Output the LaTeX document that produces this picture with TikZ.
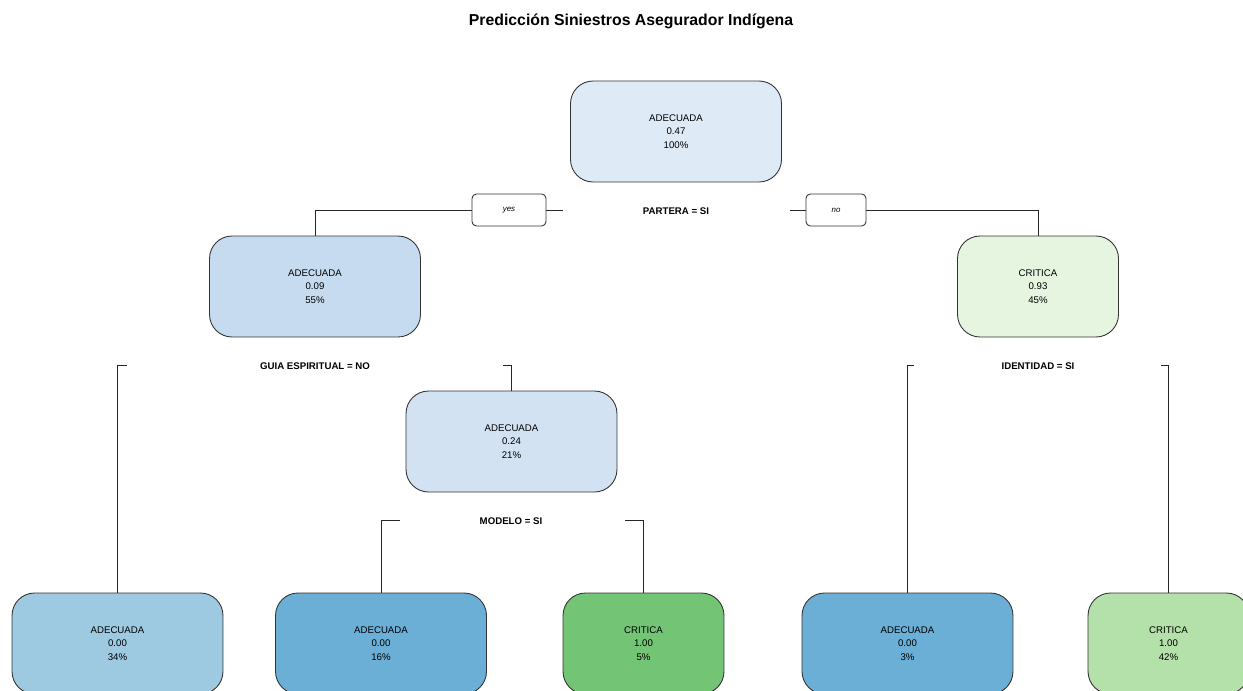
\documentclass[tikz,border=0pt]{standalone}
\usepackage{fontspec}
\setmainfont{Liberation Sans}
\usetikzlibrary{positioning}

\definecolor{cRoot}{RGB}{222,234,246}
\definecolor{cL}{RGB}{198,219,239}
\definecolor{cM}{RGB}{210,226,242}
\definecolor{cR}{RGB}{229,245,224}
\definecolor{cA}{RGB}{158,202,225}
\definecolor{cB}{RGB}{107,174,214}
\definecolor{cC}{RGB}{116,196,118}
\definecolor{cD}{RGB}{180,224,170}

\begin{document}
\begin{tikzpicture}[x=0.02cm,y=-0.02cm,
    leaf/.style={draw=black!80,line width=0.5pt,rounded corners=0.45cm,minimum height=2.02cm,align=center,font=\fontsize{5.5}{7.6}\selectfont},
    wide/.style={leaf,minimum width=4.22cm},
    narrow/.style={leaf,minimum width=3.22cm},
    split/.style={font=\bfseries\fontsize{5.5}{7}\selectfont},
    tag/.style={draw=black!80,line width=0.5pt,rounded corners=2.5pt,minimum height=0.64cm,font=\itshape\fontsize{4.5}{5}\selectfont},
    edge/.style={draw=black!85,line width=0.5pt}]
\clip (0,0) rectangle (1243,690);

\node[font=\bfseries\fontsize{9}{11}\selectfont] (title) at (631,21) {Predicción Siniestros Asegurador Indígena};

% inner nodes
\node[wide,fill=cRoot] (N0) at (676,131.5) {ADECUADA\\0.47\\100\%};
\node[wide,fill=cL] (N1) at (315,286.5) {ADECUADA\\0.09\\55\%};
\node[narrow,fill=cR] (N2) at (1038,286.5) {CRITICA\\0.93\\45\%};
\node[wide,fill=cM] (N3) at (511.5,441.5) {ADECUADA\\0.24\\21\%};

% leaves
\foreach \x/\s/\c/\l/\v/\p [count=\n] in
    {117.5/wide/cA/ADECUADA/0.00/34, 381/wide/cB/ADECUADA/0.00/16, 643.5/narrow/cC/CRITICA/1.00/5,
     907.5/wide/cB/ADECUADA/0.00/3, 1168.5/narrow/cD/CRITICA/1.00/42}
    \node[\s,fill=\c] (L\n) at (\x,643.5) {\l\\\v\\\p\%};

% split labels
\node[split] (S0) at (676,211) {PARTERA = SI};
\node[split] (S1) at (315,366) {GUIA ESPIRITUAL = NO};
\node[split] (S2) at (1038,366) {IDENTIDAD = SI};
\node[split] (S3) at (511,521) {MODELO = SI};

\node[tag,minimum width=1.48cm] (yes) at (509,210) {yes};
\node[tag,minimum width=1.2cm] (no) at (836,210) {no};

% branch ends
\coordinate (a0) at (563,210); \coordinate (b0) at (790,210);
\coordinate (a1) at (127,365); \coordinate (b1) at (503,365);
\coordinate (a2) at (914,365); \coordinate (b2) at (1161,365);
\coordinate (a3) at (400,520); \coordinate (b3) at (625,520);

\draw[edge] (N1.north) |- (yes.west);
\draw[edge] (yes.east) -- (a0);
\draw[edge] (b0) -- (no.west);
\draw[edge] (no.east) -| (N2.north);

\draw[edge] (L1.north) |- (a1);
\draw[edge] (b1) -| (N3.north);
\draw[edge] (L4.north) |- (a2);
\draw[edge] (b2) -| (L5.north);
\draw[edge] (L2.north) |- (a3);
\draw[edge] (b3) -| (L3.north);
\end{tikzpicture}
\end{document}
